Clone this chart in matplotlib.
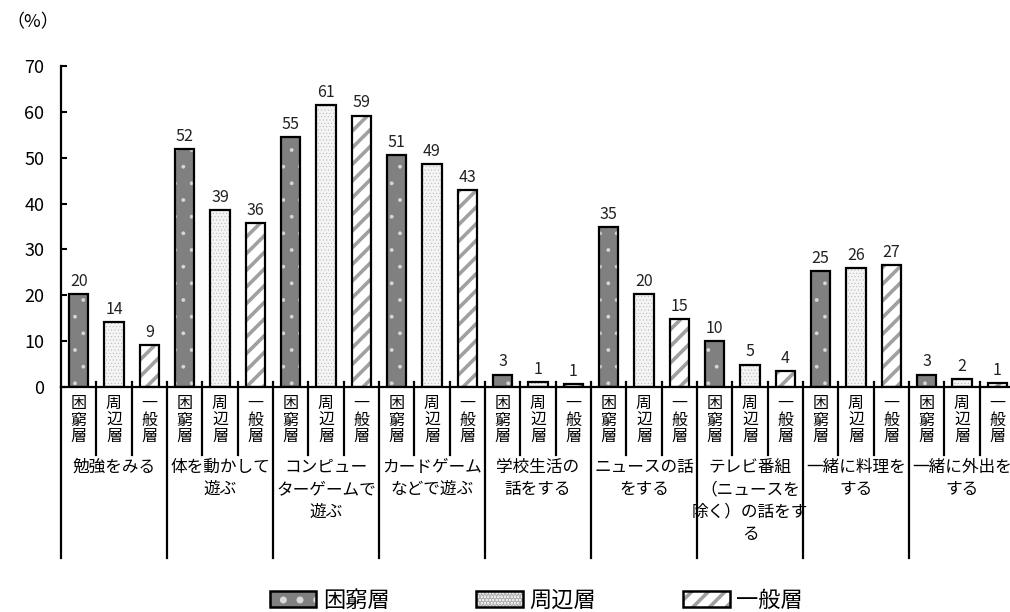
import matplotlib
matplotlib.use('Agg')
import matplotlib.pyplot as plt
from matplotlib.patches import Rectangle
from matplotlib.legend_handler import HandlerTuple
import matplotlib.transforms as mtransforms
import numpy as np

plt.rcParams['font.family'] = ['Noto Sans CJK JP', 'DejaVu Sans']

# data
groups = ['勉強をみる', '体を動かして\n遊ぶ', 'コンピュー\nターゲームで\n遊ぶ',
          'カードゲーム\nなどで遊ぶ', '学校生活の\n話をする', 'ニュースの話\nをする',
          'テレビ番組\n（ニュースを\n除く）の話をす\nる', '一緒に料理を\nする', '一緒に外出を\nする']
series = ['困窮層', '周辺層', '一般層']
konkyu = [20.3, 51.8, 54.5, 50.6, 2.7, 34.9, 10.1, 25.2, 2.7]
shuhen = [14.2, 38.6, 61.5, 48.6, 1.0, 20.3, 4.9, 25.9, 1.8]
ippan = [9.2, 35.7, 59.2, 43.0, 0.6, 14.8, 3.5, 26.6, 0.9]
labels_k = [20, 52, 55, 51, 3, 35, 10, 25, 3]
labels_s = [14, 39, 61, 49, 1, 20, 5, 26, 2]
labels_i = [9, 36, 59, 43, 1, 15, 4, 27, 1]

styles = [
    dict(facecolor='#808080', hatch='.', hcolor='#d8d8d8', hlw=0.3),
    dict(facecolor='#f4f4f4', hatch='.....', hcolor='#b0b0b0', hlw=0.3),
    dict(facecolor='white', hatch='//', hcolor='#a0a0a0', hlw=2.6),
]

fig = plt.figure(figsize=(10.10, 6.12), dpi=100)
H = 321.0
ax = fig.add_axes([61 / 1010, (612 - 387) / 612, 954 / 1010, H / 612])

bw = 0.55
for j, (vals, labs) in enumerate(zip([konkyu, shuhen, ippan], [labels_k, labels_s, labels_i])):
    st = styles[j]
    plt.rcParams['hatch.linewidth'] = st['hlw']
    x = np.arange(len(groups)) * 3 + j + 0.5
    ax.bar(x, vals, bw, color=st['facecolor'], edgecolor=st['hcolor'],
           hatch=st['hatch'], linewidth=0, zorder=2)
    ax.bar(x, vals, bw, fill=False, edgecolor='black', linewidth=1.6, zorder=3)
    for xi, v, l in zip(x, vals, labs):
        ax.text(xi, v + 0.9, str(l), ha='center', va='bottom', fontsize=11.5, color='#222222')

ax.set_xlim(0, 27)
ax.set_ylim(0, 70)
ax.set_yticks(range(0, 71, 10))
ax.tick_params(axis='y', direction='in', length=4, width=1.5, labelsize=13, pad=12)
ax.set_xticks([])
for s in ['top', 'right']:
    ax.spines[s].set_visible(False)
ax.spines['left'].set_linewidth(1.6)
ax.spines['bottom'].set_linewidth(1.6)

trans = mtransforms.blended_transform_factory(ax.transData, ax.transAxes)
for b in range(1, 28):
    low = -171 / H if b % 3 == 0 else -68 / H
    ax.plot([b, b], [5 / H, low], color='black', lw=1.6, transform=trans, clip_on=False)
ax.plot([0, 0], [0, -171 / H], color='black', lw=1.6, transform=trans, clip_on=False)

for g in range(len(groups)):
    for j, s in enumerate(series):
        ax.text(g * 3 + j + 0.5, -8 / H, '\n'.join(s), transform=trans, ha='center', va='top',
                fontsize=11.5, linespacing=0.98)
    ax.text(g * 3 + 1.5, -72 / H, groups[g], transform=trans, ha='center', va='top',
            fontsize=12, linespacing=1.4, multialignment='center')

fig.text(6 / 1010, 1 - 22 / 612, '（%）', ha='left', va='center', fontsize=13)

handles = []
for st in styles:
    plt.rcParams['hatch.linewidth'] = st['hlw']
    p1 = Rectangle((0, 0), 1, 1, facecolor=st['facecolor'], edgecolor=st['hcolor'],
                   hatch=st['hatch'], linewidth=0)
    p2 = Rectangle((0, 0), 1, 1, fill=False, edgecolor='black', linewidth=1.8)
    handles.append((p1, p2))
fig.legend(handles, series, loc='center', bbox_to_anchor=(0.531, 1 - 600 / 612), ncol=3,
           frameon=False, fontsize=16, handlelength=2.1, handleheight=0.72,
           columnspacing=3.9, handletextpad=0.3, borderpad=0,
           handler_map={tuple: HandlerTuple(ndivide=1, pad=0)})

fig.savefig('out.png', dpi=100)
